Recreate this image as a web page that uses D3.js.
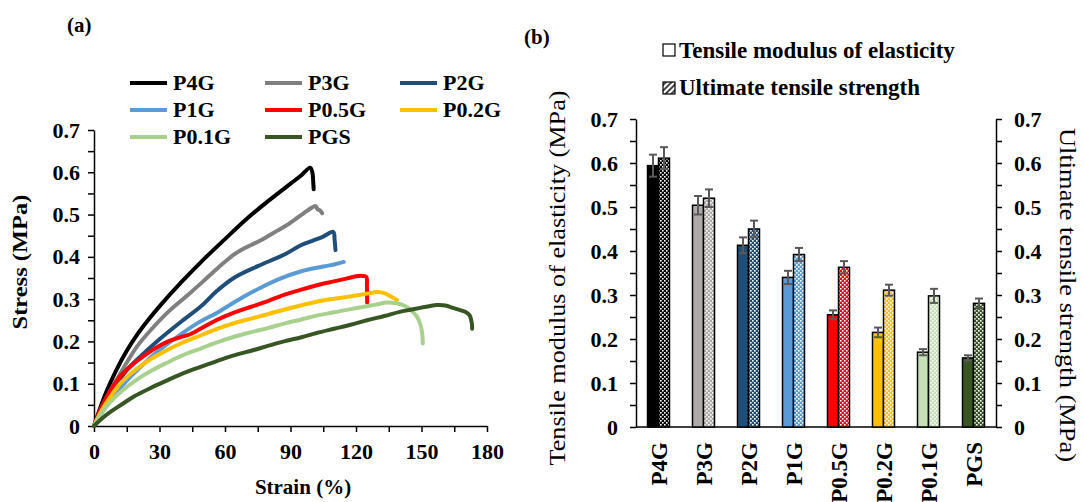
<!DOCTYPE html>
<html>
<head>
<meta charset="utf-8">
<script src="https://cdn.jsdelivr.net/npm/d3@7"></script>
<style>
  body { margin: 0; background: #fff; }
  svg { display: block; }
  text { font-family: "Liberation Serif", "Times New Roman", serif; fill: #000; }
</style>
</head>
<body>
<svg id="fig" width="1084" height="502"></svg>
<script>
// ---------- data ----------
const samples = ["P4G", "P3G", "P2G", "P1G", "P0.5G", "P0.2G", "P0.1G", "PGS"];

// stress–strain curves: [strain %, stress MPa]
const curveP4G = [[0,0],[3,0.045],[6,0.085],[10,0.13],[15,0.178],[20,0.218],[25,0.252],[30,0.283],[40,0.34],[50,0.393],[60,0.442],[70,0.49],[80,0.533],[90,0.573],[95,0.593],[99,0.611],[100,0.6],[100.4,0.578],[100.6,0.56]];
const curveP3G = [[0,0],[3,0.035],[6,0.068],[10,0.105],[15,0.15],[20,0.19],[26,0.227],[34,0.27],[43,0.31],[50,0.342],[57,0.375],[64,0.405],[68,0.418],[72,0.428],[76,0.438],[80,0.45],[84,0.462],[88,0.474],[92,0.488],[96,0.503],[100,0.517],[101.5,0.52],[102.5,0.512],[103.5,0.51],[104.5,0.503]];
const curveP2G = [[0,0],[3,0.03],[6,0.06],[10,0.095],[15,0.132],[22,0.168],[30,0.205],[40,0.247],[49,0.283],[56,0.318],[64,0.35],[75,0.378],[87,0.405],[95,0.428],[100,0.438],[105,0.448],[109.6,0.459],[110.2,0.44],[110.6,0.416]];
const curveP1G = [[0,0],[5,0.042],[10,0.077],[15,0.107],[21.4,0.14],[30,0.18],[41.2,0.222],[48,0.245],[56.4,0.268],[65,0.295],[76.3,0.327],[85,0.348],[95,0.366],[105,0.377],[110,0.382],[114.4,0.388]];
const curveP05G = [[0,0],[3,0.04],[7.6,0.085],[12,0.118],[18.3,0.148],[24,0.17],[29,0.187],[34,0.2],[39.7,0.21],[44,0.217],[48.8,0.23],[56,0.25],[64.1,0.268],[72,0.282],[79.3,0.295],[87,0.31],[94.6,0.322],[102,0.333],[109.8,0.342],[116,0.349],[120,0.354],[123,0.355],[124.7,0.353],[125,0.33],[125.1,0.292]];
const curveP02G = [[0,0],[3,0.032],[7.6,0.07],[12,0.1],[18.3,0.13],[25,0.155],[33.6,0.18],[41,0.198],[48.8,0.214],[56,0.229],[64.1,0.243],[72,0.254],[80,0.265],[87,0.275],[94.6,0.285],[102,0.294],[110,0.301],[118,0.307],[125,0.313],[130,0.317],[133,0.314],[136,0.306],[138.8,0.298]];
const curveP01G = [[0,0],[4,0.035],[10,0.07],[18.3,0.105],[26,0.13],[33.6,0.15],[41,0.168],[48.8,0.183],[56,0.197],[64.1,0.211],[72,0.222],[80,0.232],[87,0.242],[95,0.252],[102,0.261],[110,0.269],[118,0.277],[125,0.283],[130,0.288],[134,0.292],[138,0.291],[141,0.287],[144,0.279],[146,0.27],[148,0.258],[149.5,0.24],[150.3,0.22],[150.6,0.195]];
const curvePGS = [[0,0],[3,0.015],[8,0.035],[13,0.052],[18.3,0.07],[26,0.09],[33.6,0.108],[41,0.125],[48.8,0.14],[56,0.153],[64.1,0.167],[72,0.178],[80,0.19],[87,0.2],[95,0.21],[102,0.22],[110,0.23],[118,0.24],[125,0.25],[133,0.26],[140,0.27],[145,0.275],[150,0.28],[154,0.284],[157,0.286],[161,0.285],[164,0.28],[167,0.275],[170,0.27],[172,0.262],[173,0.245],[173.2,0.23]];
const curves = [curveP4G, curveP3G, curveP2G, curveP1G, curveP05G, curveP02G, curveP01G, curvePGS];

// tensile modulus of elasticity and ultimate tensile strength (MPa)
const modulus    = [0.594, 0.504, 0.413, 0.340, 0.255, 0.215, 0.170, 0.157];
const modulusErr = [0.025, 0.021, 0.018, 0.015, 0.010, 0.011, 0.007, 0.006];
const uts        = [0.611, 0.520, 0.450, 0.392, 0.363, 0.311, 0.298, 0.281];
const utsErr     = [0.025, 0.020, 0.019, 0.015, 0.014, 0.0125, 0.016, 0.011];

// axis ticks
const strainTicks = [0, 15, 30, 45, 60, 75, 90, 105, 120, 135, 150, 165, 180];
const strainTickLabels = [0, 30, 60, 90, 120, 150, 180];
const stressTicks = [0, 0.05, 0.1, 0.15, 0.2, 0.25, 0.3, 0.35, 0.4, 0.45, 0.5, 0.55, 0.6, 0.65, 0.7];
const stressTickLabels = [0, 0.1, 0.2, 0.3, 0.4, 0.5, 0.6, 0.7];

// colours
const curveColors = ["#000000", "#808080", "#1f4e79", "#5b9bd5", "#ff0000", "#ffc000", "#a9d18e", "#375623"];
const barColors   = ["#000000", "#aeaaaa", "#1f4e79", "#5b9bd5", "#ff0000", "#ffc000", "#c5e0b4", "#375623"];

// ---------- drawing ----------
const svg = d3.select("#fig");
const defs = svg.append("defs");

const isLabel = (labels) => (d) => labels.some(v => Math.abs(v - d) < 1e-9);
const fmt = (d) => String(Math.round(d * 10) / 10);

function styleAxis(g, size) {
  g.select(".domain").attr("stroke", "#000").attr("stroke-width", 1.5);
  g.selectAll(".tick line").attr("stroke", "#000").attr("stroke-width", 1.5);
  g.selectAll(".tick text").attr("font-size", size).attr("font-weight", "bold")
    .attr("font-family", null).attr("fill", "#000");
}

// ===== (a) stress–strain curves =====
const xA = d3.scaleLinear().domain([0, 180]).range([94, 487]);
const yA = d3.scaleLinear().domain([0, 0.7]).range([426, 130]);

const gAx = svg.append("g").attr("transform", `translate(0,${yA(0)})`)
  .call(d3.axisBottom(xA).tickValues(strainTicks).tickSize(6).tickSizeOuter(0).tickPadding(11)
    .tickFormat(d => isLabel(strainTickLabels)(d) ? String(d) : ""));
styleAxis(gAx, 22);

const gAy = svg.append("g").attr("transform", `translate(${xA(0)},0)`)
  .call(d3.axisLeft(yA).tickValues(stressTicks).tickSize(6).tickSizeOuter(0).tickPadding(8)
    .tickFormat(d => isLabel(stressTickLabels)(d) ? fmt(d) : ""));
styleAxis(gAy, 22);

const line = d3.line().x(d => xA(d[0])).y(d => yA(d[1])).curve(d3.curveCatmullRom.alpha(0.5));
svg.append("g").selectAll("path").data(curves).join("path")
  .attr("d", line)
  .attr("fill", "none")
  .attr("stroke", (d, i) => curveColors[i])
  .attr("stroke-width", 4)
  .attr("stroke-linejoin", "round")
  .attr("stroke-linecap", "round");

// legend (3 columns)
const legA = svg.append("g");
const colX = [130, 265, 400];
const rowY = [83, 110, 137];
samples.forEach((s, i) => {
  const cx = colX[i % 3], cy = rowY[Math.floor(i / 3)];
  legA.append("line").attr("x1", cx).attr("x2", cx + 37).attr("y1", cy).attr("y2", cy)
    .attr("stroke", curveColors[i]).attr("stroke-width", 4);
  legA.append("text").attr("x", cx + 43).attr("y", cy + 7)
    .attr("font-size", 22).attr("font-weight", "bold").text(s);
});

svg.append("text").attr("x", 67).attr("y", 32).attr("font-size", 21).attr("font-weight", "bold").text("(a)");
svg.append("text").attr("x", 303).attr("y", 494).attr("text-anchor", "middle")
  .attr("font-size", 21).attr("font-weight", "bold").text("Strain (%)");
svg.append("text").attr("transform", "translate(27,262) rotate(-90)").attr("text-anchor", "middle")
  .attr("font-size", 22).attr("font-weight", "bold")
  .attr("textLength", 135).attr("lengthAdjust", "spacingAndGlyphs").text("Stress (MPa)");

// ===== (b) bar chart =====
const xB = d3.scaleBand().domain(samples).range([636, 996]);
const yB = d3.scaleLinear().domain([0, 0.7]).range([427, 119]);
const barW = 11;

// dotted fills for the strength bars
barColors.forEach((c, i) => {
  const p = defs.append("pattern").attr("id", "dots" + i).attr("patternUnits", "userSpaceOnUse")
    .attr("width", 4).attr("height", 4);
  p.append("rect").attr("width", 4).attr("height", 4).attr("fill", c);
  p.append("rect").attr("x", 0).attr("y", 0).attr("width", 1.6).attr("height", 1.6).attr("fill", "#fff");
  p.append("rect").attr("x", 2).attr("y", 2).attr("width", 1.6).attr("height", 1.6).attr("fill", "#fff");
});
// hatch for legend swatch
const hp = defs.append("pattern").attr("id", "hatch").attr("patternUnits", "userSpaceOnUse")
  .attr("width", 4).attr("height", 4).attr("patternTransform", "rotate(45)");
hp.append("rect").attr("width", 4).attr("height", 4).attr("fill", "#fff");
hp.append("rect").attr("width", 2).attr("height", 4).attr("fill", "#444");

const gBl = svg.append("g").attr("transform", `translate(${xB.range()[0]},0)`)
  .call(d3.axisLeft(yB).tickValues(stressTicks).tickSize(6).tickSizeOuter(0).tickPadding(12)
    .tickFormat(d => isLabel(stressTickLabels)(d) ? fmt(d) : ""));
styleAxis(gBl, 22);
const gBr = svg.append("g").attr("transform", `translate(${xB.range()[1]},0)`)
  .call(d3.axisRight(yB).tickValues(stressTicks).tickSize(6).tickSizeOuter(0).tickPadding(12)
    .tickFormat(d => isLabel(stressTickLabels)(d) ? fmt(d) : ""));
styleAxis(gBr, 22);
svg.append("line").attr("x1", xB.range()[0]).attr("x2", xB.range()[1])
  .attr("y1", yB(0)).attr("y2", yB(0)).attr("stroke", "#000").attr("stroke-width", 1.5);

const bars = svg.append("g");
samples.forEach((s, i) => {
  const c = xB(s) + xB.bandwidth() / 2;
  bars.append("rect").attr("x", c - barW).attr("y", yB(modulus[i]))
    .attr("width", barW).attr("height", yB(0) - yB(modulus[i]))
    .attr("fill", barColors[i]).attr("stroke", "#000").attr("stroke-width", 1.5);
  bars.append("rect").attr("x", c).attr("y", yB(uts[i]))
    .attr("width", barW).attr("height", yB(0) - yB(uts[i]))
    .attr("fill", `url(#dots${i})`).attr("stroke", "#000").attr("stroke-width", 1.5);
});

// error bars
const errs = svg.append("g").attr("stroke", "#595959").attr("stroke-width", 2);
function errBar(cx, v, e) {
  errs.append("line").attr("x1", cx).attr("x2", cx).attr("y1", yB(v + e)).attr("y2", yB(v - e));
  errs.append("line").attr("x1", cx - 4).attr("x2", cx + 4).attr("y1", yB(v + e)).attr("y2", yB(v + e));
  errs.append("line").attr("x1", cx - 4).attr("x2", cx + 4).attr("y1", yB(v - e)).attr("y2", yB(v - e));
}
samples.forEach((s, i) => {
  const c = xB(s) + xB.bandwidth() / 2;
  errBar(c - barW / 2, modulus[i], modulusErr[i]);
  errBar(c + barW / 2, uts[i], utsErr[i]);
});

// category labels
svg.append("g").selectAll("text").data(samples).join("text")
  .attr("transform", d => `translate(${xB(d) + xB.bandwidth() / 2},442) rotate(-90)`)
  .attr("text-anchor", "end").attr("dy", "0.35em")
  .attr("font-size", 23).attr("font-weight", "bold").text(d => d);

// legend
svg.append("rect").attr("x", 663).attr("y", 44).attr("width", 12).attr("height", 12)
  .attr("fill", "#fff").attr("stroke", "#000").attr("stroke-width", 1.2);
svg.append("text").attr("x", 679).attr("y", 58).attr("font-size", 23).attr("font-weight", "bold")
  .text("Tensile modulus of elasticity");
svg.append("rect").attr("x", 663).attr("y", 82).attr("width", 12).attr("height", 12)
  .attr("fill", "url(#hatch)").attr("stroke", "#000").attr("stroke-width", 1.2);
svg.append("text").attr("x", 679).attr("y", 95).attr("font-size", 23).attr("font-weight", "bold")
  .text("Ultimate tensile strength");

svg.append("text").attr("x", 524).attr("y", 44).attr("font-size", 21).attr("font-weight", "bold").text("(b)");
svg.append("text").attr("transform", "translate(565,278) rotate(-90)").attr("text-anchor", "middle")
  .attr("font-size", 23).attr("textLength", 375).attr("lengthAdjust", "spacingAndGlyphs")
  .text("Tensile modulus of elasticity (MPa)");
svg.append("text").attr("transform", "translate(1060,295) rotate(90)").attr("text-anchor", "middle")
  .attr("font-size", 23).attr("textLength", 334).attr("lengthAdjust", "spacingAndGlyphs")
  .text("Ultimate tensile strength (MPa)");
</script>
</body>
</html>
